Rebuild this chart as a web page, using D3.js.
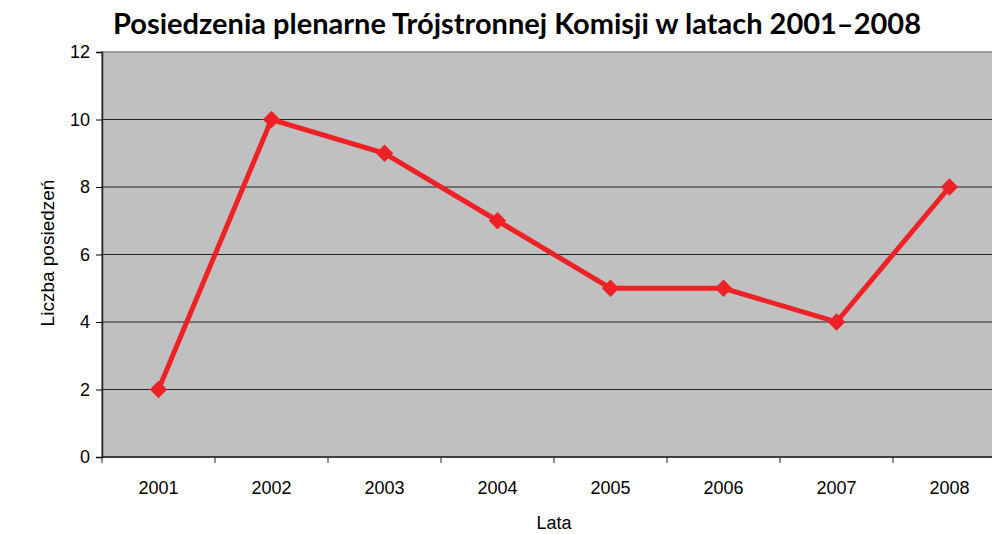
<!DOCTYPE html>
<html>
<head>
<meta charset="utf-8">
<script src="https://cdn.jsdelivr.net/npm/d3@7"></script>
<style>
body{margin:0;background:#fff;overflow:hidden;}
svg{display:block;}
.lbl{font-family:"Liberation Sans", Arial, Helvetica, sans-serif;font-size:18px;fill:#000;}
</style>
</head>
<body>
<svg id="chart" width="992" height="534"></svg>
<script>
// data
var years = ["2001","2002","2003","2004","2005","2006","2007","2008"];
var meetings = [2, 10, 9, 7, 5, 5, 4, 8];
var yTicks = [0, 2, 4, 6, 8, 10, 12];

var svg = d3.select("#chart");
var plotLeft = 102, plotTop = 52, plotBottom = 457, plotRight = 1006;

var x = d3.scaleBand().domain(years).range([plotLeft, plotRight]);
var y = d3.scaleLinear().domain([0, 12]).range([plotBottom, plotTop]);

//plot area
svg.append("rect")
	.attr("x", plotLeft).attr("y", plotTop)
	.attr("width", plotRight - plotLeft).attr("height", plotBottom - plotTop)
	.style("fill", "#c0c0c0")
	.style("stroke", "#888").style("stroke-width", 1.5);

//grid
svg.selectAll(".grid").data(yTicks.filter(function(d){ return d > 0 && d < 12; }))
	.enter().append("line")
	.attr("x1", plotLeft).attr("x2", plotRight)
	.attr("y1", function(d){ return y(d); }).attr("y2", function(d){ return y(d); })
	.style("stroke", "#222").style("stroke-width", 1);

//y axis
var yAxis = svg.append("g")
	.attr("transform", "translate(" + plotLeft + ",0)")
	.call(d3.axisLeft(y).tickValues(yTicks).tickSize(6).tickPadding(6));
yAxis.attr("font-family", null).attr("font-size", null);
yAxis.select(".domain").style("stroke", "#222").style("stroke-width", 1.5);
yAxis.selectAll("text").attr("class", "lbl");

//x axis: ticks between categories
var xAxis = svg.append("g")
	.attr("transform", "translate(0," + plotBottom + ")");
xAxis.append("line")
	.attr("x1", plotLeft).attr("x2", plotRight)
	.style("stroke", "#222").style("stroke-width", 1.5);
xAxis.selectAll(".xtick").data(years)
	.enter().append("line")
	.attr("x1", function(d){ return x(d); }).attr("x2", function(d){ return x(d); })
	.attr("y1", 0).attr("y2", 6)
	.style("stroke", "#222");
xAxis.selectAll(".xlbl").data(years)
	.enter().append("text")
	.attr("class", "lbl")
	.attr("x", function(d){ return x(d) + x.bandwidth() / 2; })
	.attr("y", 37)
	.attr("text-anchor", "middle")
	.text(function(d){ return d; });

//line
var line = d3.line()
	.x(function(d, i){ return x(years[i]) + x.bandwidth() / 2; })
	.y(function(d){ return y(d); });

svg.append("path")
	.datum(meetings)
	.attr("d", line)
	.style("fill", "none")
	.style("stroke", "#ee2226")
	.style("stroke-width", 5)
	.style("stroke-linejoin", "miter");

var diamond = d3.symbol().type(d3.symbolSquare).size(150);
svg.selectAll(".pt").data(meetings)
	.enter().append("path")
	.attr("d", diamond)
	.attr("transform", function(d, i){
		return "translate(" + (x(years[i]) + x.bandwidth() / 2) + "," + y(d) + ") rotate(45)";
	})
	.style("fill", "#ee2226");

//titles
svg.append("text")
	.attr("x", 517).attr("y", 34)
	.attr("text-anchor", "middle")
	.style("font-family", "Lato, 'Open Sans', sans-serif").style("font-weight", "bold").style("font-size", "29px")
	.text("Posiedzenia plenarne Trójstronnej Komisji w latach 2001–2008");

svg.append("text")
	.attr("class", "lbl")
	.attr("transform", "translate(54,253) rotate(-90)")
	.attr("text-anchor", "middle")
	.style("font-size", "19px")
	.text("Liczba posiedzeń");

svg.append("text")
	.attr("class", "lbl")
	.attr("x", 554).attr("y", 529)
	.attr("text-anchor", "middle")
	.text("Lata");
</script>
</body>
</html>
